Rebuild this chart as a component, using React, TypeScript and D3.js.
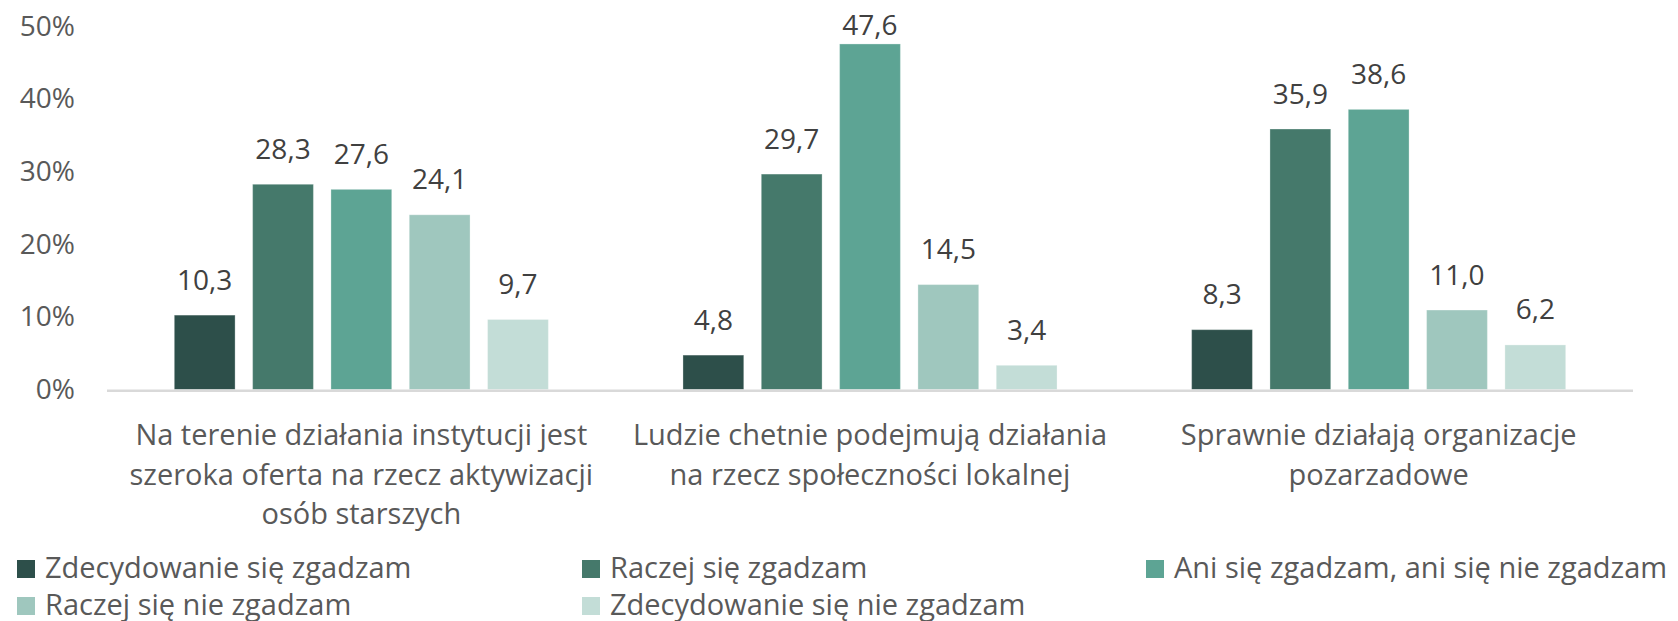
import React from "react";
import * as d3 from "d3";

const categories: string[][] = [
  ["Na terenie działania instytucji jest", "szeroka oferta na rzecz aktywizacji", "osób starszych"],
  ["Ludzie chetnie podejmują działania", "na rzecz społeczności lokalnej"],
  ["Sprawnie działają organizacje", "pozarzadowe"],
];
const seriesNames = [
  "Zdecydowanie się zgadzam",
  "Raczej się zgadzam",
  "Ani się zgadzam, ani się nie zgadzam",
  "Raczej się nie zgadzam",
  "Zdecydowanie się nie zgadzam",
];
const seriesColors = ["#2d4f4a", "#45796b", "#5da494", "#9fc7be", "#c3ddd7"];
const values: number[][] = [
  [10.3, 28.3, 27.6, 24.1, 9.7],
  [4.8, 29.7, 47.6, 14.5, 3.4],
  [8.3, 35.9, 38.6, 11.0, 6.2],
];
const yTicks = [0, 10, 20, 30, 40, 50];

const W = 1678;
const H = 621;
const FONT = "'Open Sans', sans-serif";
const FS = 28;
const FS_TEXT = 29;

export default function App() {
  const plotLeft = 107;
  const plotRight = 1633;
  const y = d3.scaleLinear().domain([0, 50]).range([389.5, 26]);
  const x0 = d3
    .scaleBand<number>()
    .domain(categories.map((_, i) => i))
    .range([plotLeft, plotRight])
    .padding(0);
  const groupPad = 66.8;
  const x1 = d3
    .scaleBand<number>()
    .domain(seriesNames.map((_, i) => i))
    .range([groupPad, x0.bandwidth() - groupPad])
    .paddingInner(0.211)
    .paddingOuter(0);
  const fmt = (v: number) => v.toFixed(1).replace(".", ",");
  const legendCols = [17, 582, 1146];

  return (
    <svg
      width={W}
      height={H}
      style={{ position: "absolute", left: 0, top: 0, background: "#fff" }}
      fontFamily={FONT}
    >
      {yTicks.map((t) => (
        <text
          key={t}
          x={75}
          y={y(t) + 9.5}
          textAnchor="end"
          fontSize={FS}
          fill="#595959"
        >
          {t}%
        </text>
      ))}
      {values.map((row, gi) => (
        <g key={gi} transform={`translate(${x0(gi)},0)`}>
          {row.map((v, si) => (
            <g key={si}>
              <rect
                x={(x1(si) as number) + 0.5}
                y={y(v) + 0.5}
                width={x1.bandwidth() - 1}
                height={y(0) - y(v) - 0.5}
                fill={seriesColors[si]}
                stroke="#ffffff"
                strokeOpacity={0.3}
                strokeWidth={1}
              />
              <text
                x={(x1(si) as number) + x1.bandwidth() / 2}
                y={Math.max(y(v) - 25, 34.5)}
                textAnchor="middle"
                fontSize={FS}
                fill="#404040"
              >
                {fmt(v)}
              </text>
            </g>
          ))}
          {categories[gi].map((line, li) => (
            <text
              key={li}
              x={x0.bandwidth() / 2}
              y={445 + li * 39.5}
              textAnchor="middle"
              fontSize={FS_TEXT}
              fill="#595959"
            >
              {line}
            </text>
          ))}
        </g>
      ))}
      <line
        x1={plotLeft}
        x2={plotRight}
        y1={y(0) + 1.2}
        y2={y(0) + 1.2}
        stroke="#d9d9d9"
        strokeWidth={2.5}
      />
      {seriesNames.map((name, i) => {
        const col = i % 3;
        const row = Math.floor(i / 3);
        const lx = legendCols[col];
        const ly = 560 + row * 37;
        return (
          <g key={name}>
            <rect x={lx} y={ly} width={18} height={18} fill={seriesColors[i]} />
            <text x={lx + 28} y={ly + 17.5} fontSize={FS_TEXT} fill="#595959">
              {name}
            </text>
          </g>
        );
      })}
    </svg>
  );
}
